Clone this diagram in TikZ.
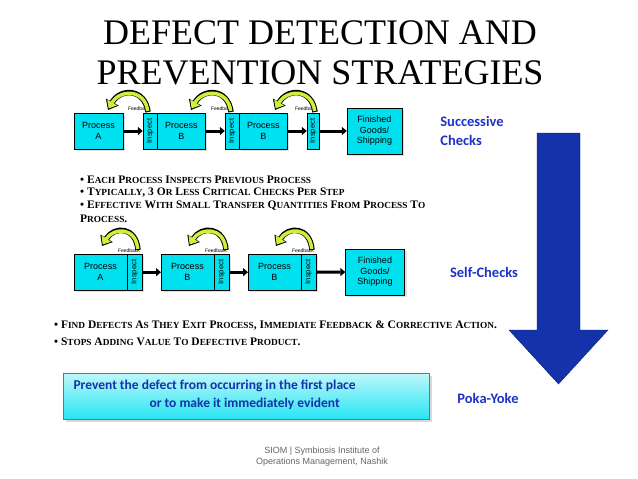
\documentclass[tikz,border=0pt]{standalone}
\usepackage{fontspec}
\setmainfont{Liberation Serif}
\newfontfamily\ar{Liberation Sans}
\newfontfamily\cb{Carlito}
\usetikzlibrary{arrows.meta,shadows}
\definecolor{cy}{RGB}{0,225,240}
\definecolor{lbl}{RGB}{30,50,200}
\definecolor{fb}{RGB}{205,240,60}
\definecolor{big}{RGB}{20,50,170}
\newcommand{\sk}[2]{#1{\fontsize{9.3}{10}\selectfont #2}}
\begin{document}
\begin{tikzpicture}[x=1pt,y=-1pt,
 box/.style={draw,fill=cy,font=\ar\fontsize{9}{10.5}\selectfont,align=center,inner sep=0pt,drop shadow={shadow xshift=2pt,shadow yshift=-2pt,fill=black!25}},
 insp/.style={draw,fill=cy,inner sep=0pt,font=\ar\fontsize{7.5}{8}\selectfont},
 flow/.style={-{Triangle[length=5pt,width=8pt]},line width=3pt},
 fbk/.style={font=\ar\fontsize{5}{5}\selectfont},
 lab/.style={font=\cb\bfseries\fontsize{14.5}{19}\selectfont,text=lbl,align=left},
 bul/.style={font=\bfseries\fontsize{11.5}{13}\selectfont,anchor=west,inner sep=0pt}]
\useasboundingbox (0,0) rectangle (638,479);
\fill[white] (0,0) rectangle (638,479);
\node (t1) at (320,33) {\fontsize{36}{38}\selectfont DEFECT DETECTION AND};
\node (t2) at (320,73) {\fontsize{36}{38}\selectfont PREVENTION STRATEGIES};
% row 1
\node[box,minimum width=49pt,minimum height=36pt] (a1) at (98.5,131) {Process\\A};
\node[insp,minimum width=14pt,minimum height=36pt] (i1) at (150,131) {\rotatebox{90}{Inspect}};
\node[box,minimum width=48pt,minimum height=36pt,anchor=west] (b1) at (i1.east) {Process\\B};
\node[insp,minimum width=14pt,minimum height=36pt] (i2) at (232,131) {\rotatebox{90}{Inspect}};
\node[box,minimum width=48pt,minimum height=36pt,anchor=west] (c1) at (i2.east) {Process\\B};
\node[insp,minimum width=12pt,minimum height=36pt] (i3) at (313,131) {\rotatebox{90}{Inspect}};
\node[box,minimum width=55pt,minimum height=46pt] (f1) at (374.5,131) {Finished\\Goods/\\Shipping};
\draw[flow] (a1) -- (i1);
\draw[flow] (b1) -- (i2);
\draw[flow] (c1) -- (i3);
\draw[flow] (i3) -- (f1);
\node[fbk] (fb1) at (139,109) {Feedback};
\node[fbk] (fb2) at (222,109) {Feedback};
\node[fbk] (fb3) at (306,109) {Feedback};
\foreach \s/\e in {148/108,231/191,315/275}{
 \draw[line width=5.5pt,-{Triangle[length=9pt,width=14pt]}] (\s,112) .. controls (\s-3,88) and (\e+12,88) .. (\e,110);
 \draw[line width=3.5pt,fb,-{Triangle[length=7pt,width=11pt]}] (\s-0.3,111) .. controls (\s-3,89) and (\e+12,89) .. (\e+0.6,108.5);}
\node[lab] (sc) at (472,131) {Successive\\Checks};
\node[bul] (p1) at (80,180) {• \sk{E}{ACH} \sk{P}{ROCESS} \sk{I}{NSPECTS} \sk{P}{REVIOUS} \sk{P}{ROCESS}};
\node[bul] (p2) at (80,193) {• \sk{T}{YPICALLY}, 3 \sk{O}{R} \sk{L}{ESS} \sk{C}{RITICAL} \sk{C}{HECKS} \sk{P}{ER} \sk{S}{TEP}};
\node[bul] (p3) at (80,206) {• \sk{E}{FFECTIVE} \sk{W}{ITH} \sk{S}{MALL} \sk{T}{RANSFER} \sk{Q}{UANTITIES} \sk{F}{ROM} \sk{P}{ROCESS} \sk{T}{O}};
\node[bul] (p4) at (80,219) {\sk{P}{ROCESS}.};
% row 2
\foreach \n/\x/\t in {a2/74/A,b2/161/B,c2/248/B}{
 \node[box,minimum width=68pt,minimum height=36pt,anchor=north west] (\n) at (\x,254) {};
 \draw (\x+53,254) -- (\x+53,290);
 \node[font=\ar\fontsize{9}{10.5}\selectfont,align=center] at (\x+26.5,272) {Process\\\t};
 \node[font=\ar\fontsize{7.5}{8}\selectfont] at (\x+60.5,272) {\rotatebox{90}{Inspect}};}
\node[box,minimum width=59pt,minimum height=46pt] (f2) at (375,272) {Finished\\Goods/\\Shipping};
\draw[flow] (a2) -- (b2);
\draw[flow] (b2) -- (c2);
\draw[flow] (c2) -- (f2);
\node[fbk] (fg1) at (129,251) {Feedback};
\node[fbk] (fg2) at (216,251) {Feedback};
\node[fbk] (fg3) at (303,251) {Feedback};
\foreach \s/\e in {138/102,226/189,312/276}{
 \draw[line width=5.5pt,-{Triangle[length=9pt,width=14pt]}] (\s,250) .. controls (\s-2,226) and (\e+12,226) .. (\e,246);
 \draw[line width=3.5pt,fb,-{Triangle[length=7pt,width=11pt]}] (\s-0.3,249) .. controls (\s-2,227) and (\e+12,227) .. (\e+0.6,244.5);}
\node[lab] (slc) at (484,272) {Self-Checks};
\node[bul] (q1) at (54,326) {• \sk{F}{IND} \sk{D}{EFECTS} \sk{A}{S} \sk{T}{HEY} \sk{E}{XIT} \sk{P}{ROCESS}, \sk{I}{MMEDIATE} \sk{F}{EEDBACK} \& \sk{C}{ORRECTIVE} \sk{A}{CTION}.};
\node[bul] (q2) at (54,342) {• \sk{S}{TOPS} \sk{A}{DDING} \sk{V}{ALUE} \sk{T}{O} \sk{D}{EFECTIVE} \sk{P}{RODUCT}.};
% poka-yoke
\node[draw=big!70,top color=cy!25,bottom color=cy!85,minimum width=366pt,minimum height=46pt,drop shadow={shadow xshift=3pt,shadow yshift=-3pt,fill=black!30}] (pk) at (246,396) {};
\node[font=\cb\bfseries\fontsize{13.5}{15}\selectfont,text=big,anchor=west] (pt1) at (70,386) {Prevent the defect from occurring in the first place};
\node[font=\cb\bfseries\fontsize{13.5}{15}\selectfont,text=big,anchor=west] (pt2) at (146,404) {or to make it immediately evident};
\node[lab] (py) at (488,398) {Poka-Yoke};
% big arrow
\filldraw[fill=big,draw=big!60!black] (537,133) -- (580,133) -- (580,330) -- (608,330) -- (558.5,384) -- (509,330) -- (537,330) -- cycle;
\node[font=\ar\fontsize{9}{11}\selectfont,text=black!60,align=center] (ft) at (322,457) {SIOM | Symbiosis Institute of\\Operations Management, Nashik};
\end{tikzpicture}
\end{document}
